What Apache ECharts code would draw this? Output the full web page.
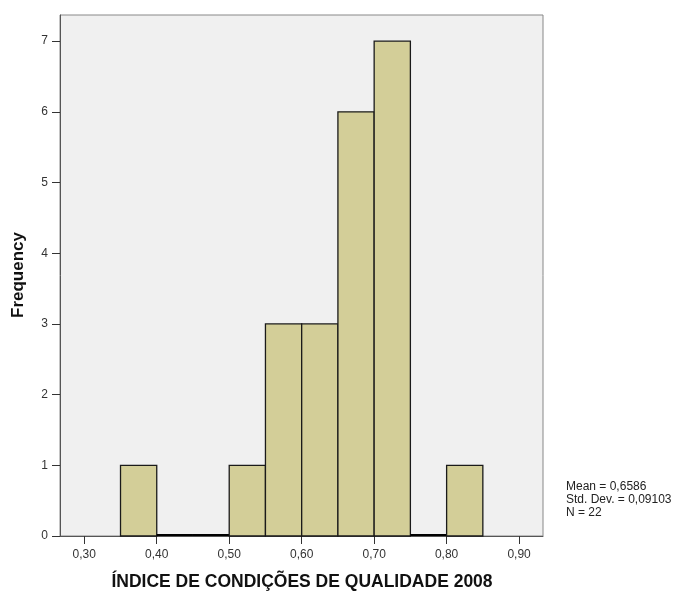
<!DOCTYPE html>
<html><head><meta charset="utf-8">
<script src="https://cdn.jsdelivr.net/npm/echarts@6/dist/echarts.min.js"></script>
<style>html,body{margin:0;padding:0;background:#fff}#c{width:680px;height:593px}</style>
</head><body><div id="c"></div>
<script>
var binStarts = [0.35, 0.40, 0.45, 0.50, 0.55, 0.60, 0.65, 0.70, 0.75, 0.80];
var binWidth = 0.05;
var counts = [1, 0, 0, 1, 3, 3, 6, 7, 0, 1];
var xTicks = [0.30, 0.40, 0.50, 0.60, 0.70, 0.80, 0.90];
var yTicks = [0, 1, 2, 3, 4, 5, 6, 7];
var xTitle = 'ÍNDICE DE CONDIÇÕES DE QUALIDADE 2008';
var yTitle = 'Frequency';
var statsLines = ['Mean = 0,6586', 'Std. Dev. = 0,09103', 'N = 22'];

var data = binStarts.map(function (s, i) { return [s, s + binWidth, counts[i]]; });
var font = 'Liberation Sans, Arial, sans-serif';
var chart = echarts.init(document.getElementById('c'));
chart.setOption({
  animation: false,
  backgroundColor: '#fff',
  grid: { left: 60, top: 15, width: 483, height: 521, backgroundColor: '#f0f0f0', show: true, borderColor: '#888', borderWidth: 1 },
  xAxis: {
    type: 'value', min: 0.2665, max: 0.933,
    axisLine: { show: true, onZero: false, lineStyle: { color: '#555', width: 1 } },
    axisTick: { show: true, length: 8, lineStyle: { color: '#333' }, customValues: xTicks },
    axisLabel: { customValues: xTicks, color: '#333', fontFamily: font, fontSize: 12, margin: 13,
      formatter: function (v) { return v.toFixed(2).replace('.', ','); } },
    splitLine: { show: false }
  },
  yAxis: {
    type: 'value', min: 0, max: 7.37,
    axisLine: { show: true, lineStyle: { color: '#555', width: 1 } },
    axisTick: { show: true, length: 8, lineStyle: { color: '#333' }, customValues: yTicks },
    axisLabel: { customValues: yTicks, color: '#333', fontFamily: font, fontSize: 12, margin: 12 },
    splitLine: { show: false }
  },
  series: [{
    type: 'custom',
    data: data,
    renderItem: function (params, api) {
      var p0 = api.coord([api.value(0), 0]);
      var p1 = api.coord([api.value(1), api.value(2)]);
      if (api.value(2) === 0) {
        return { type: 'line', shape: { x1: p0[0], y1: p0[1] - 1, x2: p1[0], y2: p0[1] - 1 },
          style: { stroke: '#000', lineWidth: 2 } };
      }
      return { type: 'rect', shape: { x: p0[0], y: p1[1], width: p1[0] - p0[0], height: p0[1] - p1[1] },
        style: { fill: '#d3ce98', stroke: '#1a1a1a', lineWidth: 1.3 } };
    }
  }],
  graphic: [
    { type: 'text', x: 302, y: 582, style: { text: xTitle, font: 'bold 17.5px ' + font, fill: '#111', align: 'center', verticalAlign: 'middle' } },
    { type: 'text', x: 18, y: 275, rotation: Math.PI / 2, style: { text: yTitle, font: 'bold 17px ' + font, fill: '#111', align: 'center', verticalAlign: 'middle' } },
    { type: 'text', x: 566, y: 480, style: { text: statsLines.join('\n'), font: '12px ' + font, fill: '#222', lineHeight: 13 } }
  ]
});
</script></body></html>
